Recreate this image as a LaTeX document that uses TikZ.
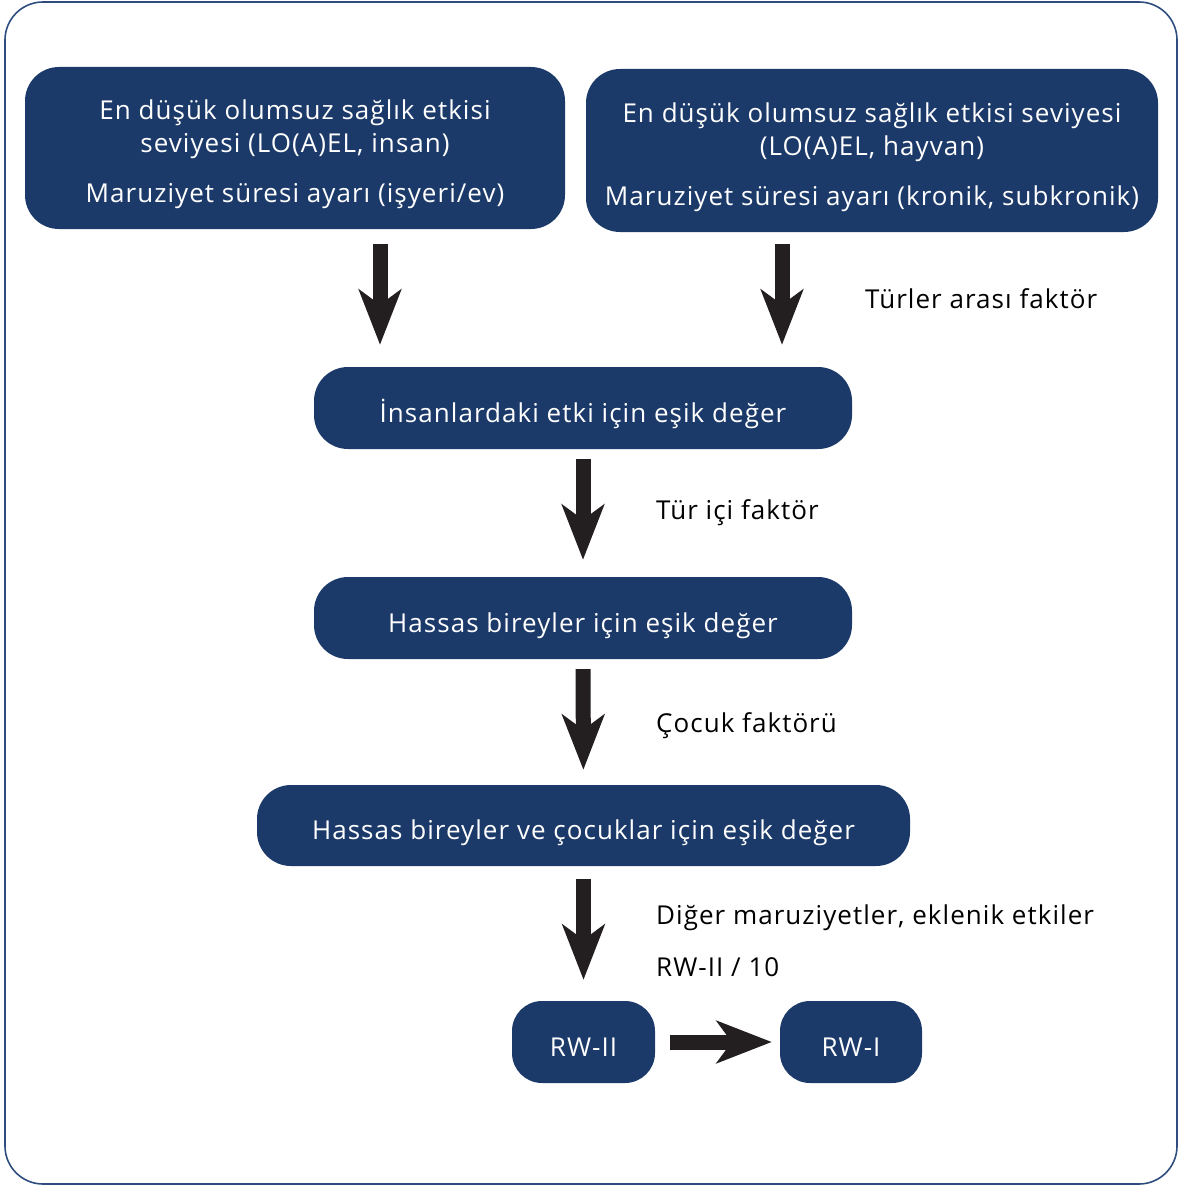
\documentclass[tikz,border=0pt]{standalone}
\usepackage{fontspec}
\setmainfont{Open Sans}[LetterSpace=4]
\usetikzlibrary{arrows.meta}

\definecolor{boxblue}{HTML}{1C3A69}
\definecolor{frameblue}{HTML}{2E4D7E}
\definecolor{arrowblack}{HTML}{231F20}

\tikzset{
  stepbox/.style={fill=boxblue, text=white, rounded corners=34pt, align=center,
    inner sep=0pt, text height=28pt, text depth=0pt, font=\fontsize{26}{33}\selectfont},
  tallbox/.style={stepbox, text height=, text depth=0pt},
  bigarrow/.style={line width=15pt, draw=arrowblack,
    -{Stealth[length=55pt, width=42pt, inset=15pt]}},
  factor/.style={anchor=base west, inner sep=0pt, font=\fontsize{26}{33}\selectfont}
}
\newcommand{\topstrut}{\rule{0pt}{27pt}}

\begin{document}
\begin{tikzpicture}[x=1pt, y=-1pt]
\useasboundingbox (0,0) rectangle (1182,1185);
\draw[frameblue, line width=1.6pt, rounded corners=38pt] (5,2) rectangle (1177,1184);

% boxes
\node[tallbox, minimum width=540pt, minimum height=162pt] (loaelh) at (295,148)
  {\topstrut En düşük olumsuz sağlık etkisi\\seviyesi (LO(A)EL, insan)\\[17pt]Maruziyet süresi ayarı (işyeri/ev)};
\node[tallbox, minimum width=572pt, minimum height=163pt] (loaela) at (872,150.5)
  {\topstrut En düşük olumsuz sağlık etkisi seviyesi\\(LO(A)EL, hayvan)\\[17pt]Maruziyet süresi ayarı (kronik, subkronik)};
\node[stepbox, minimum width=538pt, minimum height=82pt] (human) at (583,408)
  {İnsanlardaki etki için eşik değer};
\node[stepbox, minimum width=538pt, minimum height=82pt] (sensitive) at (583,618)
  {Hassas bireyler için eşik değer};
\node[stepbox, minimum width=653pt, minimum height=81pt] (children) at (583.5,825.5)
  {Hassas bireyler ve çocuklar için eşik değer};
\node[stepbox, rounded corners=30pt, minimum width=143pt, minimum height=82pt] (rw2) at (583.5,1042)
  {RW-II};
\node[stepbox, rounded corners=30pt, minimum width=142pt, minimum height=82pt] (rw1) at (851,1042)
  {RW-I};

% arrows
\coordinate (leftx) at (380,0);
\coordinate (rightx) at (782,0);
\draw[bigarrow, shorten <=15pt, shorten >=22pt] (loaelh.south -| leftx) -- (human.north -| leftx);
\draw[bigarrow, shorten <=12pt, shorten >=22pt] (loaela.south -| rightx) -- (human.north -| rightx);
\draw[bigarrow, shorten <=10pt, shorten >=17pt] (human) -- (sensitive);
\draw[bigarrow, shorten <=10pt, shorten >=15pt] (sensitive) -- (children);
\draw[bigarrow, shorten <=13pt, shorten >=21pt] (children) -- (rw2);
\draw[bigarrow, shorten <=15pt, shorten >=8pt] (rw2) -- (rw1);

% factors
\node[factor] (interspecies) at (865,308) {Türler arası faktör};
\node[factor] (intraspecies) at (656,519) {Tür içi faktör};
\node[factor] (childfactor) at (656,732) {Çocuk faktörü};
\node[factor] (other) at (656,924) {Diğer maruziyetler, eklenik etkiler};
\node[factor] (rwratio) at (656,976) {RW-II / 10};
\end{tikzpicture}
\end{document}
